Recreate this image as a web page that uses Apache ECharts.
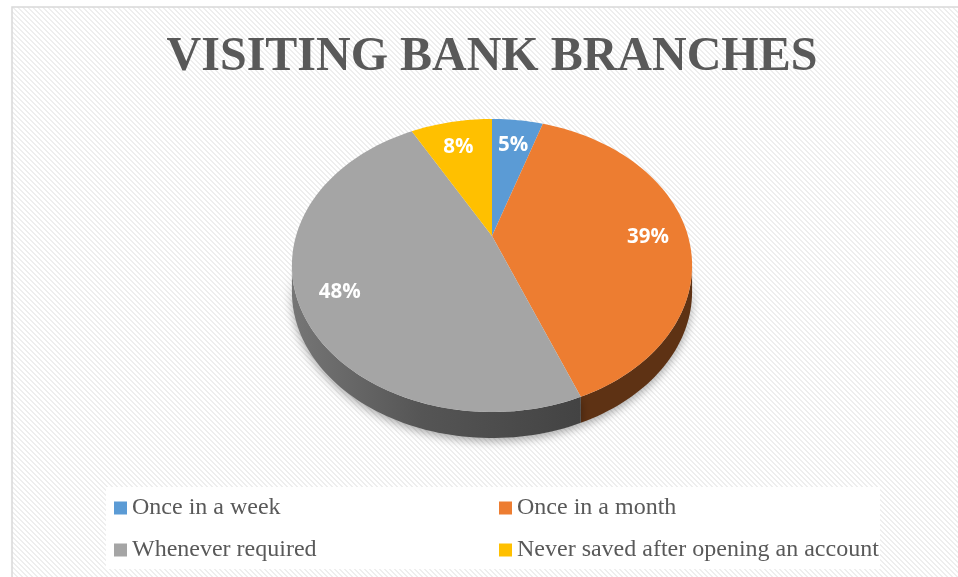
<!DOCTYPE html>
<html>
<head>
<meta charset="utf-8">
<script src="https://cdn.jsdelivr.net/npm/echarts@6/dist/echarts.min.js"></script>
<style>
  html, body { margin: 0; padding: 0; background: #ffffff; }
  #chart { width: 958px; height: 577px; }
</style>
</head>
<body>
<div id="chart"></div>
<script>
// Survey: how often respondents visit a bank branch (share of respondents, %)
const categories = [
  'Once in a week',
  'Once in a month',
  'Whenever required',
  'Never saved after opening an account'
];
const shares = [5, 39, 48, 8];
const chartTitle = 'VISITING BANK BRANCHES';

// Palette
const topColors = ['#5B9BD5', '#ED7D31', '#A5A5A5', '#FFC000'];
const sideColors = ['#2F5F8C', '#5E3214', null, '#8A6A00'];

// Tilted-disc projection (perspective view of a flat pie)
const CX = 492, CY = 236;      // projected centre of the pie
const RX = 196, RY = 140.6;    // radii before perspective division
const PERSP = 0.2013;          // perspective strength (near side larger)
const DEPTH = 26;              // thickness of the pie rim
const SIDE_FROM = 101.6, SIDE_TO = 258.4; // visible part of the rim (deg clockwise from 12 o'clock)

function proj(deg, r, dy) {
  const t = deg * Math.PI / 180;
  const u = r * Math.sin(t);
  const v = -r * Math.cos(t);
  const w = 1 - PERSP * v;
  return [CX + RX * u / w, CY + RY * v / w + (dy || 0)];
}
function arc(a0, a1, dy) {
  const pts = [];
  const n = Math.max(2, Math.ceil((a1 - a0) / 1.5));
  for (let k = 0; k <= n; k++) pts.push(proj(a0 + (a1 - a0) * k / n, 1, dy));
  return pts;
}

const total = shares.reduce((s, v) => s + v, 0);
function startAngle(i) {
  let acc = 0;
  for (let k = 0; k < i; k++) acc += shares[k];
  return acc / total * 360;
}

// Diagonal hatch used for the chart area background
const hatch = document.createElement('canvas');
hatch.width = 5; hatch.height = 5;
(function () {
  const ctx = hatch.getContext('2d');
  ctx.fillStyle = '#ffffff';
  ctx.fillRect(0, 0, 5, 5);
  ctx.fillStyle = '#eeeeee';
  for (let y = 0; y < 5; y++) {
    for (let x = 0; x < 5; x++) {
      if (((x - y) % 5 + 5) % 5 < 2) ctx.fillRect(x, y, 1, 1);
    }
  }
})();

function sliceRenderer(i) {
  return function (params, api) {
    const value = api.value(0);
    const a0 = startAngle(i);
    const a1 = a0 + value / total * 360;
    const children = [];

    // front rim
    const lo = Math.max(a0, SIDE_FROM), hi = Math.min(a1, SIDE_TO);
    if (lo < hi) {
      const pts = arc(lo, hi, 0).concat(arc(lo, hi, DEPTH).reverse());
      const fill = sideColors[i] || new echarts.graphic.LinearGradient(0, 0, 1, 0, [
        { offset: 0, color: '#767676' },
        { offset: 0.45, color: '#555555' },
        { offset: 1, color: '#434343' }
      ]);
      children.push({
        type: 'polygon',
        shape: { points: pts },
        style: {
          fill: fill,
          shadowBlur: 10,
          shadowOffsetY: 3,
          shadowColor: 'rgba(0,0,0,0.35)'
        },
        z2: 0
      });
    }

    // top face
    const top = [proj(0, 0, 0)].concat(arc(a0, a1, 0));
    children.push({
      type: 'polygon',
      shape: { points: top },
      style: { fill: topColors[i] },
      z2: 10
    });

    // data label
    const mid = (a0 + a1) / 2;
    const p = proj(mid, 0.8, 0);
    children.push({
      type: 'text',
      x: p[0],
      y: p[1] + 5,
      style: {
        text: Math.round(value / total * 100) + '%',
        fill: '#ffffff',
        font: 'bold 20.5px "Open Sans", sans-serif',
        align: 'center',
        verticalAlign: 'middle'
      },
      z2: 100
    });

    return { type: 'group', children: children };
  };
}

const chart = echarts.init(document.getElementById('chart'), null, { renderer: 'canvas' });

chart.setOption({
  animation: false,
  backgroundColor: '#ffffff',
  color: topColors,
  graphic: [
    {
      type: 'rect',
      z: -10,
      shape: { x: 12, y: 7, width: 960, height: 590 },
      style: {
        fill: { image: hatch, repeat: 'repeat' },
        stroke: '#d9d9d9',
        lineWidth: 1.5
      },
      silent: true
    },
    {
      type: 'text',
      z: 10,
      x: 492,
      y: 58,
      style: {
        text: chartTitle,
        fill: '#595959',
        font: 'bold 48px "Liberation Serif", "Times New Roman", serif',
        align: 'center',
        verticalAlign: 'middle'
      }
    }
  ],
  legend: {
    left: 106,
    top: 487,
    width: 770,
    orient: 'horizontal',
    padding: [2, 0, 0, 8],
    backgroundColor: '#ffffff',
    itemGap: 4,
    itemWidth: 13,
    itemHeight: 13,
    icon: 'rect',
    selectedMode: false,
    data: categories,
    textStyle: {
      fontFamily: '"Liberation Serif", "Times New Roman", serif',
      fontSize: 24,
      color: '#595959',
      width: 363,
      lineHeight: 38
    }
  },
  series: categories.map((name, i) => ({
    type: 'custom',
    name: name,
    coordinateSystem: 'none',
    itemStyle: { color: topColors[i] },
    renderItem: sliceRenderer(i),
    data: [{ name: name, value: [shares[i]] }]
  }))
});
</script>
</body>
</html>
